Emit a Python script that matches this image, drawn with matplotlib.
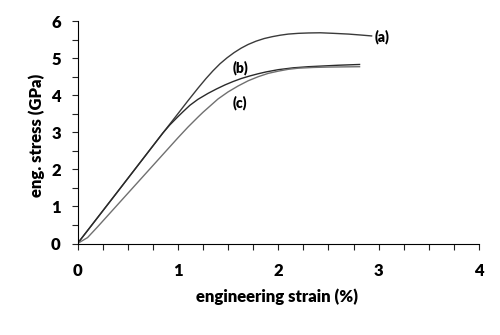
import matplotlib.pyplot as plt
from matplotlib.ticker import MultipleLocator

# stress-strain curves (strain in %, stress in GPa)
strain_a = [0, 0.4, 0.85, 1.0, 1.1, 1.2, 1.28, 1.35, 1.42, 1.49, 1.56, 1.63, 1.7, 1.78,
            1.86, 1.94, 2.02, 2.1, 2.2, 2.3, 2.42, 2.55, 2.7, 2.82, 2.93]
stress_a = [0, 1.4, 2.98, 3.5, 3.85, 4.19, 4.45, 4.66, 4.85, 5.01, 5.15, 5.27, 5.37, 5.46,
            5.53, 5.58, 5.62, 5.65, 5.67, 5.68, 5.685, 5.67, 5.65, 5.625, 5.60]

strain_b = [0, 0.4, 0.85, 0.92, 1.0, 1.053, 1.12, 1.2, 1.3, 1.385, 1.47, 1.55, 1.63,
            1.716, 1.8, 1.88, 2.0, 2.15, 2.3, 2.45, 2.6, 2.81]
stress_b = [0, 1.4, 2.98, 3.2, 3.42, 3.56, 3.73, 3.89, 4.05, 4.17, 4.28, 4.37, 4.45,
            4.52, 4.58, 4.63, 4.69, 4.74, 4.77, 4.79, 4.81, 4.83]

strain_c = [0, 0.05, 0.1, 0.2, 0.3, 0.5, 0.7, 0.9, 1.0, 1.1, 1.2, 1.25, 1.3, 1.4, 1.5,
            1.6, 1.7, 1.8, 1.9, 2.0, 2.1, 2.2, 2.35, 2.5, 2.65, 2.81]
stress_c = [0, 0.08, 0.16, 0.45, 0.75, 1.35, 1.95, 2.55, 2.85, 3.14, 3.41, 3.54, 3.66,
            3.90, 4.09, 4.25, 4.39, 4.50, 4.59, 4.65, 4.70, 4.73, 4.75, 4.76, 4.765, 4.77]

fnt = 'Lato'

fig = plt.figure(figsize=(5, 3.35), dpi=100)
ax = fig.add_axes([0.155, 0.273, 0.803, 0.664])

ax.plot(strain_a, stress_a, color='#3a3a3a', lw=1.0)
ax.plot(strain_b, stress_b, color='#2a2a2a', lw=1.0)
ax.plot(strain_c, stress_c, color='#707070', lw=1.0)

ax.text(2.96, 5.57, '(a)', fontsize=10, fontweight='heavy', family=fnt, va='center', ha='left')
ax.text(1.62, 4.73, '(b)', fontsize=10, fontweight='heavy', family=fnt, va='center', ha='center')
ax.text(1.62, 3.79, '(c)', fontsize=10, fontweight='heavy', family=fnt, va='center', ha='center')

ax.set_xlim(0, 4)
ax.set_ylim(0, 6)
ax.xaxis.set_major_locator(MultipleLocator(1))
ax.xaxis.set_minor_locator(MultipleLocator(0.25))
ax.yaxis.set_major_locator(MultipleLocator(1))
ax.yaxis.set_minor_locator(MultipleLocator(0.5))
ax.tick_params(which='both', direction='out', length=4, width=0.8, color='#222222')
ax.tick_params(axis='x', pad=10)
ax.tick_params(axis='y', pad=8)
for lbl in ax.get_xticklabels() + ax.get_yticklabels():
    lbl.set_fontsize(12)
    lbl.set_fontweight('heavy')
    lbl.set_family(fnt)

ax.spines['top'].set_visible(False)
ax.spines['right'].set_visible(False)
ax.spines['left'].set_linewidth(0.8)
ax.spines['bottom'].set_linewidth(0.8)

ax.set_xlabel('engineering strain (%)', fontsize=12, fontweight='heavy', family=fnt)
ax.set_ylabel('eng. stress (GPa)', fontsize=12, fontweight='heavy', family=fnt)
ax.xaxis.set_label_coords(0.497, -0.2)
ax.yaxis.set_label_coords(-0.081, 0.485)

fig.savefig('out.png', dpi=100)
